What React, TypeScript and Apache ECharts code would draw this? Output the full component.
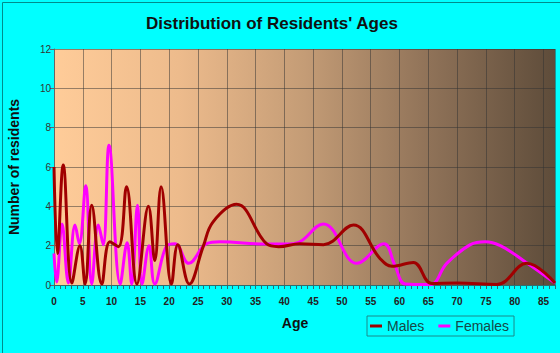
import React, { useEffect, useRef } from "react";
import * as echarts from "echarts";

const maleAges = [0, 0.6, 1.6, 3.1, 4.5, 5.4, 6.55, 8.3, 9.7, 11.2, 12.6, 14.4, 16.4, 17.5, 18.6, 20.4, 21.5, 23.5, 25.9, 27.6, 31.7, 36.9, 39, 42.7, 46.8, 52, 56.6, 58.7, 62.4, 65.6, 70, 76.9, 82.1, 87];
const maleValues = [6, 1.6, 6.1, 0.1, 2.0, 0.05, 4.05, 0.05, 2.2, 1.95, 5.0, 0.05, 4.0, 1.25, 5.0, 0.05, 2.05, 0.05, 1.95, 3.2, 4.1, 2.1, 1.95, 2.1, 2.05, 3.05, 1.35, 0.95, 1.15, 0.08, 0.1, 0.03, 1.1, 0.1];

const femaleAges = [0, 0.45, 1.4, 2.5, 3.65, 4.4, 5.5, 6.55, 7.7, 8.55, 9.55, 11.5, 12.7, 13.5, 14.5, 15.3, 16.5, 17.5, 19.6, 21, 23.4, 26.5, 28.8, 36.9, 41.6, 46.8, 52.6, 57.3, 59.2, 61, 65.3, 68.2, 72.3, 74.9, 77.5, 81.5, 87];
const femaleValues = [1.6, 0.15, 3.1, 0.1, 3.05, 2.1, 5.05, 0.05, 3.05, 2.05, 7.1, 0.05, 2.15, 0.05, 4.05, 0.05, 2.0, 0.05, 2.0, 2.1, 1.1, 2.1, 2.2, 2.08, 2.1, 3.1, 1.1, 2.1, 1.0, 0.05, 0.02, 1.1, 2.05, 2.2, 2.0, 1.25, 0.1];

const xMin = 0;
const xMax = 87;
const xInterval = 5;
const yMin = 0;
const yMax = 12;
const yInterval = 2;

const FONT = "'Liberation Sans', Arial, sans-serif";

export default function App() {
  const ref = useRef<HTMLDivElement>(null);
  useEffect(() => {
    if (!ref.current) return;
    const chart = echarts.init(ref.current, undefined, { renderer: "svg" });
    const males = maleAges.map((a, i) => [a, maleValues[i]]);
    const females = femaleAges.map((a, i) => [a, femaleValues[i]]);
    chart.setOption({
      animation: false,
      backgroundColor: "#00FFFF",
      graphic: [
        {
          type: "rect",
          left: 0,
          top: 0,
          shape: { x: 0, y: 0, width: 559, height: 352 },
          style: { fill: "none", stroke: "#008C8C", lineWidth: 1 },
          z: -1,
        },
        {
          type: "text",
          x: 272,
          y: 23,
          style: {
            text: "Distribution of Residents' Ages",
            font: `bold 17px ${FONT}`,
            fill: "#111",
            textAlign: "center",
            textVerticalAlign: "middle",
          },
        },
        {
          type: "text",
          x: 14,
          y: 167,
          rotation: Math.PI / 2,
          style: {
            text: "Number of residents",
            font: `bold 14px ${FONT}`,
            fill: "#111",
            textAlign: "center",
            textVerticalAlign: "middle",
          },
        },
        {
          type: "text",
          x: 295,
          y: 323,
          style: {
            text: "Age",
            font: `bold 14px ${FONT}`,
            fill: "#111",
            textAlign: "center",
            textVerticalAlign: "middle",
          },
        },
      ],
      legend: {
        left: 367,
        top: 316,
        orient: "horizontal",
        data: ["Males", "Females"],
        icon: "rect",
        itemWidth: 12,
        itemHeight: 3,
        itemGap: 14,
        padding: [3, 5, 3, 3],
        borderColor: "#1B8A8A",
        borderWidth: 1,
        textStyle: { fontFamily: FONT, fontSize: 14, color: "#174848", padding: [0, 0, 0, 0] },
      },
      grid: {
        left: 54,
        top: 49,
        right: 5,
        bottom: 68,
        show: true,
        borderWidth: 0,
        backgroundColor: {
          type: "linear",
          x: 0,
          y: 0,
          x2: 1,
          y2: 0,
          colorStops: [
            { offset: 0, color: "#FFCC99" },
            { offset: 0.25, color: "#EDBB8C" },
            { offset: 0.5, color: "#C49C76" },
            { offset: 0.75, color: "#8F7258" },
            { offset: 1, color: "#5E4C3A" },
          ],
        },
      },
      xAxis: {
        type: "value",
        min: xMin,
        max: xMax,
        interval: xInterval,
        axisLine: { show: true, onZero: false, lineStyle: { color: "#2E6E6E", width: 1 } },
        axisTick: { show: true, length: 4, lineStyle: { color: "#2E6E6E" } },
        minorTick: { show: true, splitNumber: 5, length: 4, lineStyle: { color: "#2E6E6E" } },
        axisLabel: {
          fontFamily: FONT,
          fontSize: 10,
          fontWeight: "bold",
          color: "#222",
          margin: 11,
          showMaxLabel: false,
          formatter: (v: number) => (v % xInterval === 0 ? String(v) : ""),
        },
        splitLine: { show: true, lineStyle: { color: "rgba(50,50,50,0.5)", width: 1 } },
      },
      yAxis: {
        type: "value",
        min: yMin,
        max: yMax,
        interval: yInterval,
        axisLine: { show: true, lineStyle: { color: "#666", width: 1 } },
        axisTick: { show: true, length: 4, lineStyle: { color: "#666" } },
        axisLabel: { fontFamily: FONT, fontSize: 10, color: "#333", margin: 3 },
        splitLine: { show: true, lineStyle: { color: "rgba(50,50,50,0.5)", width: 1 } },
      },
      series: [
        {
          name: "Males",
          type: "line",
          data: males,
          smooth: 0.4,
          showSymbol: false,
          symbol: "none",
          z: 3,
          color: "#A00000",
          lineStyle: { color: "#A00000", width: 3 },
        },
        {
          name: "Females",
          type: "line",
          data: females,
          smooth: 0.4,
          showSymbol: false,
          symbol: "none",
          z: 2,
          color: "#FF00FF",
          lineStyle: { color: "#FF00FF", width: 3 },
        },
      ],
    });
    return () => chart.dispose();
  }, []);
  return (
    <div
      ref={ref}
      style={{ position: "fixed", left: 0, top: 0, width: 560, height: 353 }}
    />
  );
}
